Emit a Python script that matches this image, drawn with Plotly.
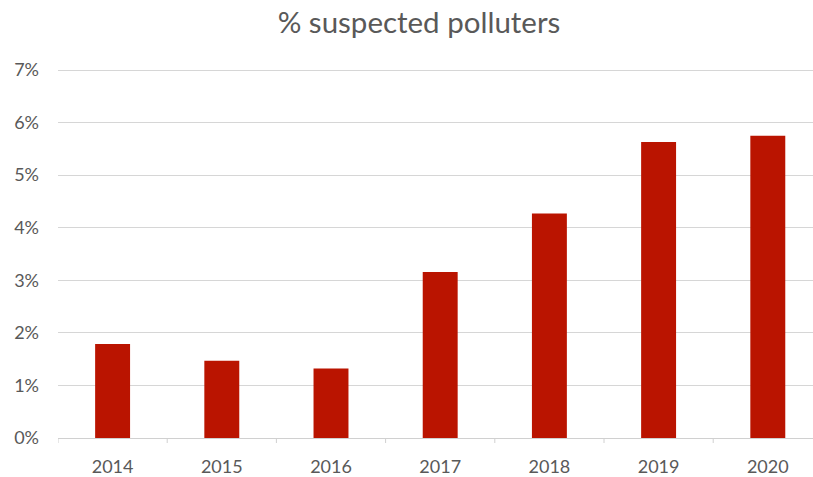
import plotly.graph_objects as go

# Share of suspected polluters by year
years = ["2014", "2015", "2016", "2017", "2018", "2019", "2020"]
share = [0.0179, 0.0147, 0.0132, 0.0316, 0.0427, 0.0563, 0.0575]

y_ticks = [0, 0.01, 0.02, 0.03, 0.04, 0.05, 0.06, 0.07]
y_tick_text = ["0%", "1%", "2%", "3%", "4%", "5%", "6%", "7%"]

W, H = 813, 477
left, top, bottom = 58, 69, 39
slot_px = 109.2
visible_slots = (W - left) / slot_px

fig = go.Figure(
    go.Bar(
        x=list(range(len(years))),
        y=share,
        width=0.32,
        marker=dict(color="#BA1400", line=dict(width=0)),
        hoverinfo="x+y",
    )
)

font_family = "Lato, 'Open Sans', sans-serif"
label_color = "#595959"

fig.update_layout(
    width=W,
    height=H,
    margin=dict(l=left, r=0, t=top, b=bottom, autoexpand=False),
    paper_bgcolor="white",
    plot_bgcolor="white",
    showlegend=False,
    title=dict(
        text="% suspected polluters",
        x=419 / W,
        xanchor="center",
        xref="container",
        y=1 - 23 / H,
        yanchor="middle",
        yref="container",
        font=dict(family=font_family, size=29.5, color=label_color),
    ),
    xaxis=dict(
        range=[-0.5, -0.5 + visible_slots],
        tickmode="array",
        tickvals=list(range(len(years))),
        ticktext=years,
        showgrid=False,
        zeroline=False,
        showline=True,
        linecolor="#D0D0D0",
        linewidth=1,
        ticks="",
        tickfont=dict(family=font_family, size=18, color=label_color),
        ticklabelstandoff=12,
    ),
    yaxis=dict(
        range=[0, 0.0702],
        tickmode="array",
        tickvals=y_ticks,
        ticktext=y_tick_text,
        showgrid=True,
        gridcolor="#D6D6D6",
        gridwidth=1.2,
        zeroline=False,
        showline=False,
        ticks="",
        tickfont=dict(family=font_family, size=18, color=label_color),
        ticklabelstandoff=18,
    ),
)

# Category boundary ticks below the baseline
for b in range(len(years) + 1):
    xb = b - 0.5
    fig.add_shape(
        type="line",
        xref="x",
        yref="paper",
        x0=xb,
        x1=xb,
        y0=0,
        y1=-5 / (H - top - bottom),
        line=dict(color="#D0D0D0", width=1),
    )

fig.write_html("out.html")
